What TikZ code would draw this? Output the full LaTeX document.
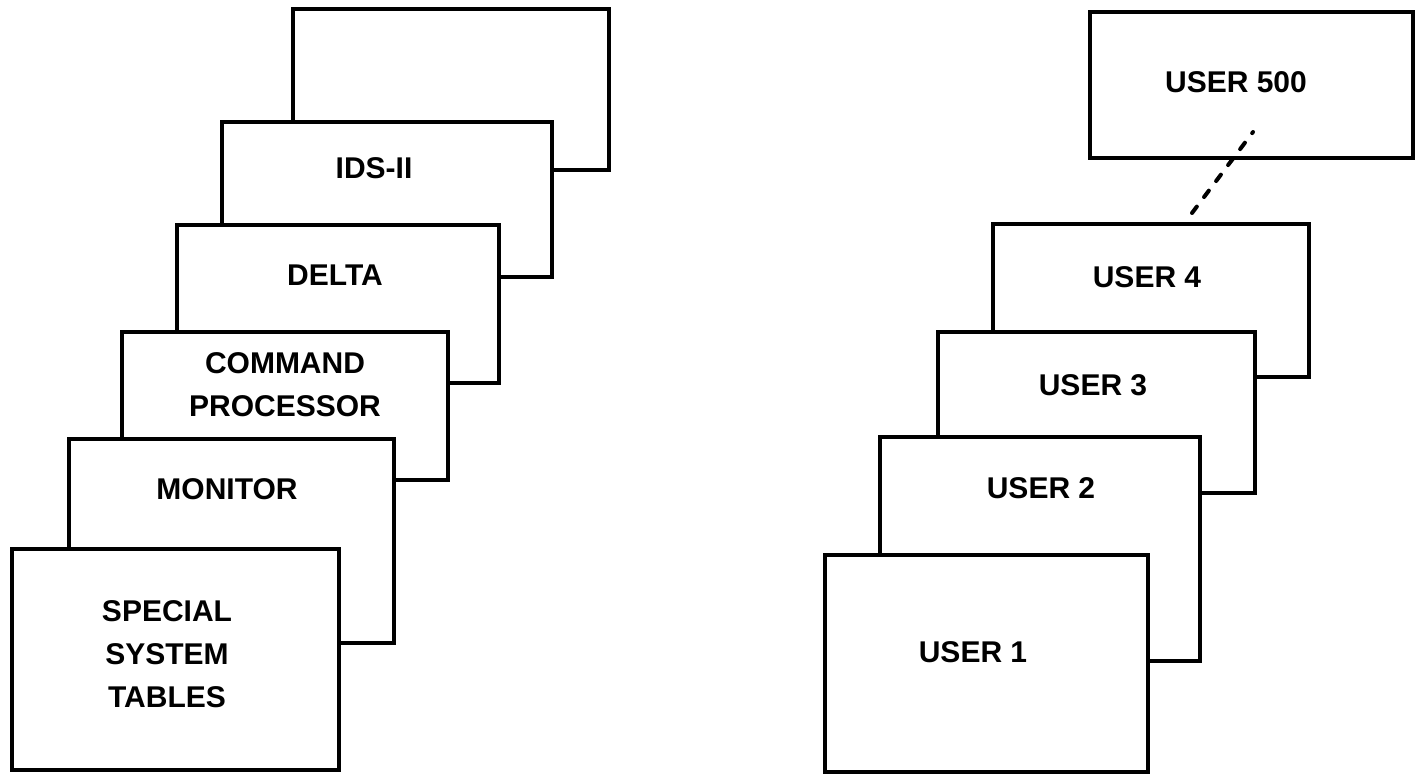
\documentclass[tikz,border=0pt]{standalone}
\usepackage{fontspec}
\setmainfont{Liberation Sans}
\begin{document}
\begin{tikzpicture}[x=0.5pt,y=-0.5pt,
    sheet/.style={fill=white, draw=black, line width=1.7pt},
    lbl/.style={font=\fontsize{15}{21.5}\selectfont\bfseries, align=center, inner sep=0pt}]

\useasboundingbox (0,0) rectangle (1416,777);

\begin{scope}[shift={(0,0)}]
        % system stack, back to front
        \coordinate (A1) at (293,9);   \coordinate (A2) at (609,170);
        \coordinate (B1) at (222,122); \coordinate (B2) at (552,277);
        \coordinate (C1) at (177,225); \coordinate (C2) at (499,383);
        \coordinate (D1) at (122,332); \coordinate (D2) at (448,480);
        \coordinate (E1) at (69,439);  \coordinate (E2) at (394,643);
        \coordinate (F1) at (12,549);  \coordinate (F2) at (339,770);

        \draw[sheet] (A1) rectangle (A2);
        \draw[sheet] (B1) rectangle (B2);
        \node[lbl] (ids) at (374,168) {IDS-II};
        \draw[sheet] (C1) rectangle (C2);
        \node[lbl] (delta) at (335,275) {DELTA};
        \draw[sheet] (D1) rectangle (D2);
        \node[lbl] (cmd) at (285,385) {COMMAND\\PROCESSOR};
        \draw[sheet] (E1) rectangle (E2);
        \node[lbl] (mon) at (227,489) {MONITOR};
        \draw[sheet] (F1) rectangle (F2);
        \node[lbl] (sst) at (167,654) {SPECIAL\\SYSTEM\\TABLES};
\end{scope}

\begin{scope}[shift={(0,0)}]
        % user stack, back to front
        \coordinate (U1) at (1090,12); \coordinate (U2) at (1413,158);
        \coordinate (P1) at (993,224); \coordinate (P2) at (1309,377);
        \coordinate (Q1) at (938,332); \coordinate (Q2) at (1255,493);
        \coordinate (R1) at (880,437); \coordinate (R2) at (1200,661);
        \coordinate (S1) at (825,555); \coordinate (S2) at (1148,772);
        \coordinate (T1) at (1192,213); \coordinate (T2) at (1253,132);

        \draw[sheet] (U1) rectangle (U2);
        \node[lbl] (u500) at (1236,82) {USER 500};
        \draw[line width=2pt, line cap=round, dash pattern=on 4pt off 6pt] (T1) -- (T2);
        \draw[sheet] (P1) rectangle (P2);
        \node[lbl] (u4) at (1147,277) {USER 4};
        \draw[sheet] (Q1) rectangle (Q2);
        \node[lbl] (u3) at (1093,385) {USER 3};
        \draw[sheet] (R1) rectangle (R2);
        \node[lbl] (u2) at (1041,488) {USER 2};
        \draw[sheet] (S1) rectangle (S2);
        \node[lbl] (u1) at (973,652) {USER 1};
\end{scope}

\end{tikzpicture}
\end{document}
